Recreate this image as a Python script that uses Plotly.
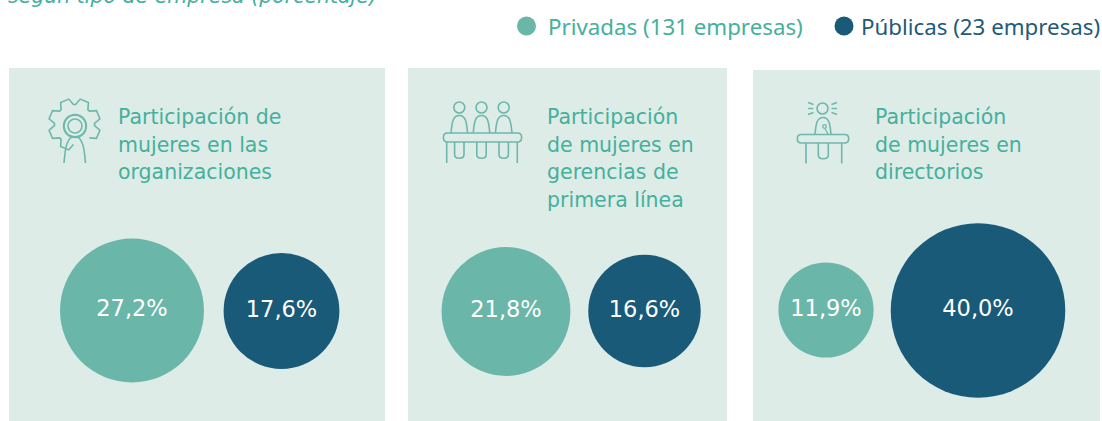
import math
import plotly.graph_objects as go

# --- data ---
panel_titles = [
    ["Participación de", "mujeres en las", "organizaciones"],
    ["Participación", "de mujeres en", "gerencias de", "primera línea"],
    ["Participación", "de mujeres en", "directorios"],
]
privadas = [27.2, 21.8, 11.9]
publicas = [17.6, 16.6, 40.0]
legend_labels = ["Privadas (131 empresas)", "Públicas (23 empresas)"]
partial_title = "según tipo de empresa (porcentaje)"

# --- style & layout ---
C_PRIV, C_PUB, C_BG = "#6AB7A9", "#195A78", "#DEECE8"
C_TXT, C_TXT_PUB, C_ICON = "#45B09C", "#1F5A78", "#6DB8AA"
W, H = 1102, 421
panels = [(9, 385, 68), (408, 727, 68), (753, 1100, 70)]
priv_xy = [(132, 310.5), (506, 311.5), (826, 310)]
pub_xy = [(281.5, 311), (644.5, 311), (978, 310.5)]
title_x = [116, 545, 873]
title_y = 117
title_step = 27.7
SIZEREF = 2 / 27.6 ** 2
TITLE_FONT = "DejaVu Sans"
LEG_FONT = "Noto Sans"


def fmt(v):
    return f"{v:.1f}%".replace(".", ",")


fig = go.Figure()
shapes = []
annotations = []

for x0, x1, y0 in panels:
    shapes.append(dict(type="rect", x0=x0, x1=x1, y0=y0, y1=H, fillcolor=C_BG,
                       line_width=0, layer="below"))


def bubble_trace(vals, xy, color):
    return go.Scatter(
        x=[p[0] for p in xy], y=[p[1] for p in xy], mode="markers+text",
        marker=dict(size=vals, sizemode="area", sizeref=SIZEREF, color=color,
                    line_width=0, opacity=1),
        text=[fmt(v) for v in vals], textposition="middle center",
        textfont=dict(family=TITLE_FONT, size=22.5, color="white"),
        showlegend=False, hoverinfo="skip", cliponaxis=False)


fig.add_trace(bubble_trace(privadas, priv_xy, C_PRIV))
fig.add_trace(bubble_trace(publicas, pub_xy, C_PUB))

# legend
fig.add_trace(go.Scatter(x=[526.5, 844], y=[26, 26], mode="markers",
                         marker=dict(size=19, color=[C_PRIV, C_PUB], line_width=0),
                         showlegend=False, hoverinfo="skip"))
for x, txt, col in [(546, legend_labels[0], C_TXT), (859, legend_labels[1], C_TXT_PUB)]:
    annotations.append(dict(x=x, y=26, text=txt, xanchor="left", yanchor="middle",
                            showarrow=False, xref="x", yref="y",
                            font=dict(family=LEG_FONT, size=22.3, color=col)))

# partial clipped title (runs off the top of the picture)
annotations.append(dict(x=6, y=1 + 4 / H, text=f"<i>{partial_title}</i>", xanchor="left",
                        yanchor="middle", showarrow=False, xref="x", yref="paper",
                        font=dict(family=TITLE_FONT, size=20.5, color=C_TXT)))

# panel titles
for tx, lines in zip(title_x, panel_titles):
    for i, line in enumerate(lines):
        annotations.append(dict(x=tx, y=title_y + i * title_step, text=line, xanchor="left",
                                yanchor="middle", showarrow=False, xref="x", yref="y",
                                font=dict(family=TITLE_FONT, size=20.5, color=C_TXT)))


# --- icons (decorative outlines) ---
def stroke(path, w=1.6):
    shapes.append(dict(type="path", path=path, line=dict(color=C_ICON, width=w),
                       fillcolor="rgba(0,0,0,0)"))


def circle(cx, cy, r, w=1.6):
    shapes.append(dict(type="circle", x0=cx - r, x1=cx + r, y0=cy - r, y1=cy + r,
                       line=dict(color=C_ICON, width=w), fillcolor="rgba(0,0,0,0)"))


def body(xl, xr, top, bottom):
    xm = (xl + xr) / 2
    return (f"M{xl},{bottom} C{xl + 1},{bottom - 8} {xl + 1},{top} {xm},{top} "
            f"C{xr - 1},{top} {xr - 1},{bottom - 8} {xr},{bottom}")


def leg_u(xl, xr, top, bottom):
    return f"M{xl},{top} L{xl},{bottom - 5} C{xl},{bottom} {xr},{bottom} {xr},{bottom - 5} L{xr},{top}"


def table(xl, xr, top, bottom):
    r = (bottom - top) / 2
    return (f"M{xl + r},{top} L{xr - r},{top} C{xr + 1},{top} {xr + 1},{bottom} {xr - r},{bottom} "
            f"L{xl + r},{bottom} C{xl - 1},{bottom} {xl - 1},{top} {xl + r},{top} Z")


# gear icon: open outline that stops where the figure stands
cx, cy = 74.5, 124.5
teeth = 8
gear = []
for k in range(teeth):
    a = math.radians(90 + 22.5 + 45 * k)   # tooth centres, going clockwise on screen from the lower left
    if k == teeth - 1:
        break
    for ang, rad in [(a - 0.34, 20), (a - 0.17, 26), (a + 0.17, 26), (a + 0.34, 20)]:
        gear.append((cx + rad * math.cos(ang), cy + rad * math.sin(ang)))
stroke("M" + " L".join(f"{x:.1f},{y:.1f}" for x, y in gear))
circle(75, 126, 11.2, 2)
circle(75, 126, 7, 1.6)
stroke(body(64, 85.5, 136.5, 163))

# three people icon
for hx in (459.3, 481.5, 503.7):
    circle(hx, 107.5, 5.5)
    stroke(body(hx - 8.3, hx + 8.3, 115.5, 133))
    stroke(leg_u(hx - 4.7, hx + 4.7, 142, 159.5))
stroke(table(443, 522, 133, 142))
stroke("M446.7,142 L446.7,163")
stroke("M517.3,142 L517.3,163")

# speaker icon
circle(822.5, 108.5, 5.5)
for s in (-1, 1):
    for y1, y2 in [(102.5, 104.5), (108.5, 108.5), (114.5, 112.5)]:
        stroke(f"M{822.5 + s * 14.5},{y1} L{822.5 + s * 9},{y2}", 1.4)
stroke(body(815, 831, 117.5, 134))
circle(824.5, 126.5, 1.8, 1.3)
stroke("M825,128.5 L828,134", 1.3)
stroke(table(797, 849, 134.5, 143))
stroke("M806,143 L806,163.5")
stroke("M841.7,143 L841.7,163.5")
stroke(leg_u(818.3, 828.3, 143, 160))

fig.update_layout(
    width=W, height=H, margin=dict(l=0, r=0, t=0, b=0),
    paper_bgcolor="white", plot_bgcolor="white",
    xaxis=dict(range=[0, W], visible=False, fixedrange=True),
    yaxis=dict(range=[H, 0], visible=False, fixedrange=True),
    shapes=shapes, annotations=annotations, showlegend=False)

fig.write_html("out.html", config=dict(displayModeBar=False),
               post_script="document.body.style.margin='0';document.body.style.overflow='hidden';")
